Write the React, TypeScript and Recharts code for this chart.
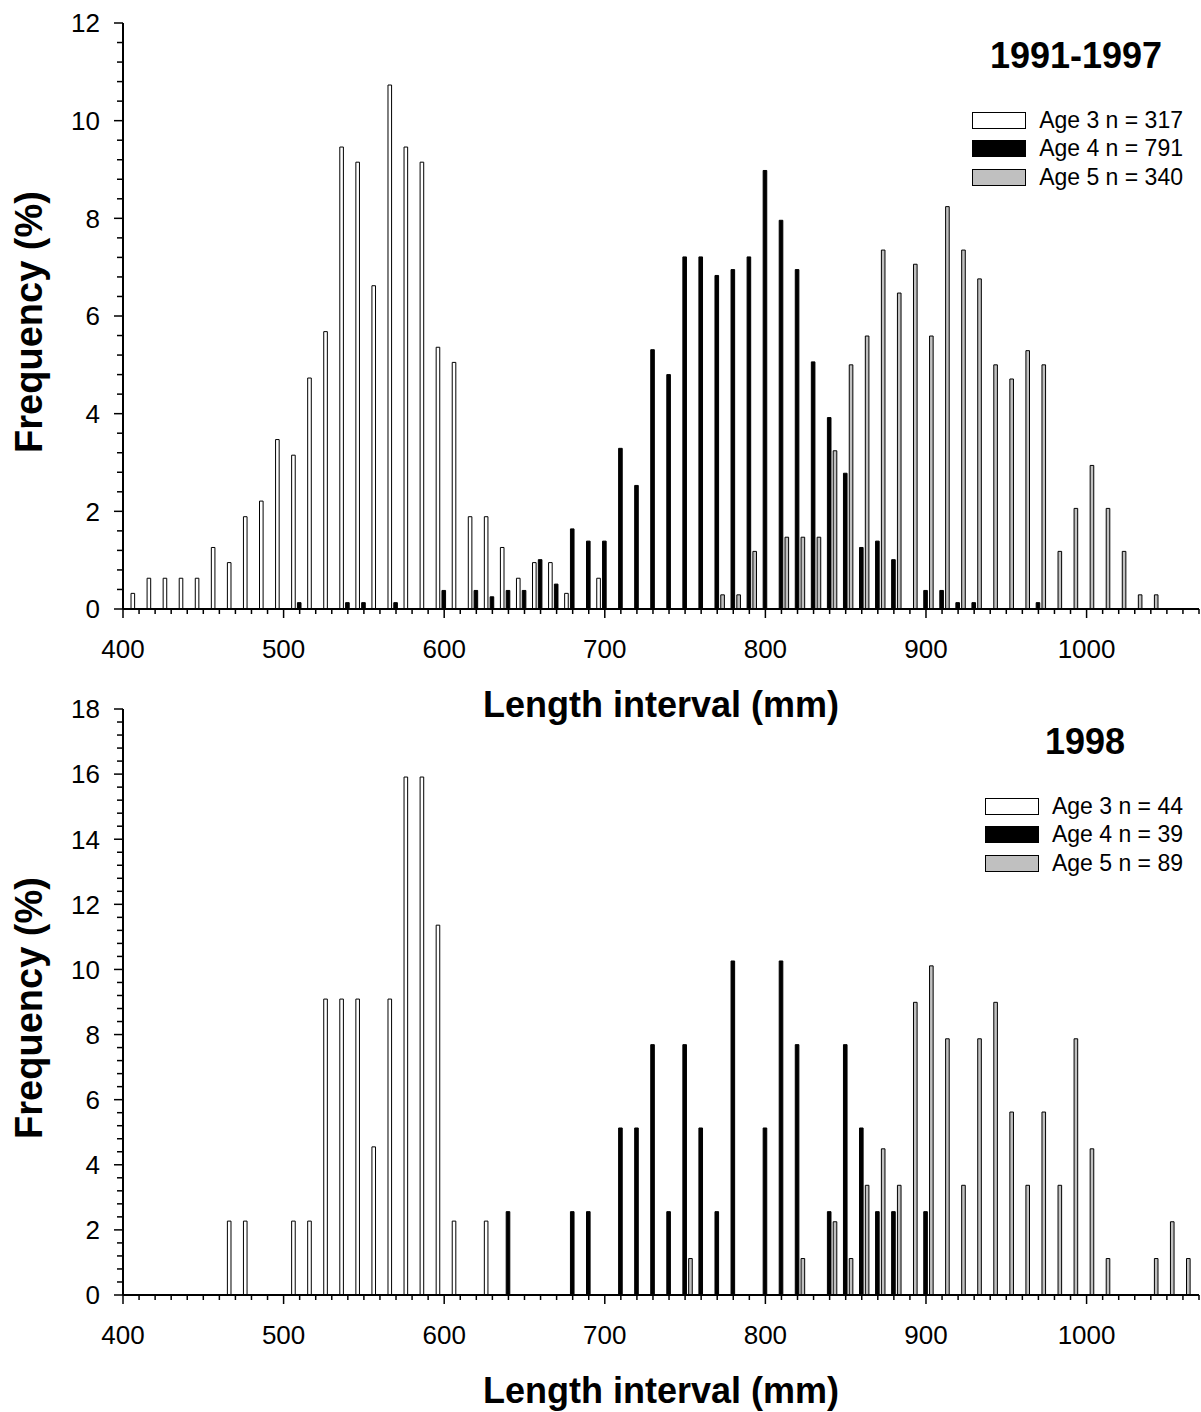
import React from "react";
import { BarChart, Bar, XAxis, YAxis, Label } from "recharts";

const FONT = "'Liberation Sans', Arial, Helvetica, sans-serif";

// length classes (mm); the three age bars of a class are grouped on it
const bins = [
  410, 420, 430, 440, 450, 460, 470, 480, 490, 500,
  510, 520, 530, 540, 550, 560, 570, 580, 590, 600,
  610, 620, 630, 640, 650, 660, 670, 680, 690, 700,
  710, 720, 730, 740, 750, 760, 770, 780, 790, 800,
  810, 820, 830, 840, 850, 860, 870, 880, 890, 900,
  910, 920, 930, 940, 950, 960, 970, 980, 990, 1000,
  1010, 1020, 1030, 1040, 1050, 1060,
];

// 1991-1997, frequency (%)
const age3Early = [
  0.32, 0.63, 0.63, 0.63, 0.63, 1.26, 0.95, 1.89, 2.21, 3.47,
  3.15, 4.73, 5.68, 9.46, 9.15, 6.62, 10.73, 9.46, 9.15, 5.36,
  5.05, 1.89, 1.89, 1.26, 0.63, 0.95, 0.95, 0.32, 0, 0.63,
  0, 0, 0, 0, 0, 0, 0, 0, 0, 0,
  0, 0, 0, 0, 0, 0, 0, 0, 0, 0,
  0, 0, 0, 0, 0, 0, 0, 0, 0, 0,
  0, 0, 0, 0, 0, 0,
];
const age4Early = [
  0, 0, 0, 0, 0, 0, 0, 0, 0, 0,
  0.13, 0, 0, 0.13, 0.13, 0, 0.13, 0, 0, 0.38,
  0, 0.38, 0.25, 0.38, 0.38, 1.01, 0.51, 1.64, 1.39, 1.39,
  3.29, 2.53, 5.31, 4.8, 7.21, 7.21, 6.83, 6.95, 7.21, 8.98,
  7.96, 6.95, 5.06, 3.92, 2.78, 1.26, 1.39, 1.01, 0, 0.38,
  0.38, 0.13, 0.13, 0, 0, 0, 0.13, 0, 0, 0,
  0, 0, 0, 0, 0, 0,
];
const age5Early = [
  0, 0, 0, 0, 0, 0, 0, 0, 0, 0,
  0, 0, 0, 0, 0, 0, 0, 0, 0, 0,
  0, 0, 0, 0, 0, 0, 0, 0, 0, 0,
  0, 0, 0, 0, 0, 0, 0.29, 0.29, 1.18, 0,
  1.47, 1.47, 1.47, 3.24, 5.0, 5.59, 7.35, 6.47, 7.06, 5.59,
  8.24, 7.35, 6.76, 5.0, 4.71, 5.29, 5.0, 1.18, 2.06, 2.94,
  2.06, 1.18, 0.29, 0.29, 0, 0,
];

// 1998, frequency (%)
const age3Late = [
  0, 0, 0, 0, 0, 0, 2.27, 2.27, 0, 0,
  2.27, 2.27, 9.09, 9.09, 9.09, 4.55, 9.09, 15.91, 15.91, 11.36,
  2.27, 0, 2.27, 0, 0, 0, 0, 0, 0, 0,
  0, 0, 0, 0, 0, 0, 0, 0, 0, 0,
  0, 0, 0, 0, 0, 0, 0, 0, 0, 0,
  0, 0, 0, 0, 0, 0, 0, 0, 0, 0,
  0, 0, 0, 0, 0, 0,
];
const age4Late = [
  0, 0, 0, 0, 0, 0, 0, 0, 0, 0,
  0, 0, 0, 0, 0, 0, 0, 0, 0, 0,
  0, 0, 0, 2.56, 0, 0, 0, 2.56, 2.56, 0,
  5.13, 5.13, 7.69, 2.56, 7.69, 5.13, 2.56, 10.26, 0, 5.13,
  10.26, 7.69, 0, 2.56, 7.69, 5.13, 2.56, 2.56, 0, 2.56,
  0, 0, 0, 0, 0, 0, 0, 0, 0, 0,
  0, 0, 0, 0, 0, 0,
];
const age5Late = [
  0, 0, 0, 0, 0, 0, 0, 0, 0, 0,
  0, 0, 0, 0, 0, 0, 0, 0, 0, 0,
  0, 0, 0, 0, 0, 0, 0, 0, 0, 0,
  0, 0, 0, 0, 1.12, 0, 0, 0, 0, 0,
  0, 1.12, 0, 2.25, 1.12, 3.37, 4.49, 3.37, 8.99, 10.11,
  7.87, 3.37, 7.87, 8.99, 5.62, 3.37, 5.62, 3.37, 7.87, 4.49,
  1.12, 0, 0, 1.12, 2.25, 1.12,
];

const xMajorTicks = [400, 500, 600, 700, 800, 900, 1000];
const yMajorTop = [0, 2, 4, 6, 8, 10, 12];
const yMajorBottom = [0, 2, 4, 6, 8, 10, 12, 14, 16, 18];

const legendTop = ["Age 3 n = 317", "Age 4 n = 791", "Age 5 n = 340"];
const legendBottom = ["Age 3 n = 44", "Age 4 n = 39", "Age 5 n = 89"];
const legendFills = ["#ffffff", "#000000", "#c0c0c0"];

// minor ticks: every 10 mm and every 0.4 %
const xTicks = Array.from({ length: 68 }, (_, i) => 400 + 10 * i);
const yTicksFor = (max: number) =>
  Array.from({ length: Math.round(max / 0.4) + 1 }, (_, i) => Math.round(i * 4) / 10);

const PLOT_TOP = 23;
const PLOT_H = 586;

const renderXTick = (props: any) => {
  const { x, y, payload } = props;
  const major = xMajorTicks.includes(payload.value);
  return (
    <g>
      <line x1={x} x2={x} y1={y} y2={y + (major ? 9 : 5)} stroke="#000" strokeWidth={1.5} />
      {major && (
        <text x={x} y={y + 49} textAnchor="middle" fontSize={26} fontFamily={FONT} fill="#000">
          {payload.value}
        </text>
      )}
    </g>
  );
};

const makeYTick = (majors: number[]) => (props: any) => {
  const { x, y, payload } = props;
  const major = majors.some((m) => Math.abs(m - payload.value) < 1e-6);
  return (
    <g>
      <line x1={x} x2={x - (major ? 9 : 6)} y1={y} y2={y} stroke="#000" strokeWidth={1.5} />
      {major && (
        <text x={x - 23} y={y} dy="0.36em" textAnchor="end" fontSize={26} fontFamily={FONT} fill="#000">
          {payload.value}
        </text>
      )}
    </g>
  );
};

interface PanelProps {
  top: number;
  height: number;
  age3: number[];
  age4: number[];
  age5: number[];
  yMax: number;
  yMajor: number[];
  title: string;
  titleX: number;
  legend: string[];
}

const Panel: React.FC<PanelProps> = ({ top, height, age3, age4, age5, yMax, yMajor, title, titleX, legend }) => {
  const rows = bins.map((bin, i) => ({ bin, age3: age3[i], age4: age4[i], age5: age5[i] }));
  const axisH = height - PLOT_TOP - PLOT_H;

  return (
    <div style={{ position: "absolute", left: 0, top, width: 1201, height }}>
      <BarChart
        width={1201}
        height={height}
        data={rows}
        margin={{ top: PLOT_TOP, right: 2, bottom: 0, left: 0 }}
        barSize={3.6}
        barGap={2.2}
      >
        <XAxis
          dataKey="bin"
          type="number"
          domain={[400, 1070]}
          ticks={xTicks}
          interval={0}
          allowDataOverflow
          height={axisH}
          tick={renderXTick}
          tickLine={false}
          tickSize={0}
          tickMargin={0}
          axisLine={{ stroke: "#000", strokeWidth: 2 }}
        >
          <Label
            value="Length interval (mm)"
            position="insideBottom"
            offset={axisH - 108}
            style={{ fontSize: 36, fontWeight: 700, fill: "#000", fontFamily: FONT }}
          />
        </XAxis>
        <YAxis
          type="number"
          domain={[0, yMax]}
          ticks={yTicksFor(yMax)}
          interval={0}
          allowDataOverflow
          width={123}
          tick={makeYTick(yMajor)}
          tickLine={false}
          tickSize={0}
          tickMargin={0}
          axisLine={{ stroke: "#000", strokeWidth: 2 }}
        >
          <Label
            value="Frequency (%)"
            angle={-90}
            position="insideLeft"
            offset={29}
            dy={6}
            style={{ textAnchor: "middle", fontSize: 38, fontWeight: 700, fill: "#000", fontFamily: FONT }}
          />
        </YAxis>
        <Bar dataKey="age3" fill="#ffffff" stroke="#000" strokeWidth={1} isAnimationActive={false} />
        <Bar dataKey="age4" fill="#000000" stroke="#000" strokeWidth={1} isAnimationActive={false} />
        <Bar dataKey="age5" fill="#c0c0c0" stroke="#000" strokeWidth={1} isAnimationActive={false} />
      </BarChart>

      <div
        style={{
          position: "absolute",
          left: titleX,
          top: 56,
          transform: "translate(-50%, -50%)",
          fontFamily: FONT,
          fontWeight: 700,
          fontSize: 36,
          lineHeight: 1,
          whiteSpace: "nowrap",
        }}
      >
        {title}
      </div>

      <div style={{ position: "absolute", right: 18, top: 106, fontFamily: FONT }}>
        {legend.map((text, i) => (
          <div
            key={text}
            style={{ display: "flex", alignItems: "center", justifyContent: "flex-end", height: 28.5 }}
          >
            <div
              style={{
                width: 52,
                height: 15,
                background: legendFills[i],
                border: "1px solid #000",
                marginRight: 13,
              }}
            />
            <span style={{ fontSize: 23, lineHeight: 1, whiteSpace: "nowrap" }}>{text}</span>
          </div>
        ))}
      </div>
    </div>
  );
};

const App: React.FC = () => (
  <div
    style={{
      position: "absolute",
      left: 0,
      top: 0,
      width: 1201,
      height: 1412,
      overflow: "hidden",
      background: "#fff",
    }}
  >
    <Panel
      top={0}
      height={730}
      age3={age3Early}
      age4={age4Early}
      age5={age5Early}
      yMax={12}
      yMajor={yMajorTop}
      title="1991-1997"
      titleX={1076}
      legend={legendTop}
    />
    <Panel
      top={686}
      height={726}
      age3={age3Late}
      age4={age4Late}
      age5={age5Late}
      yMax={18}
      yMajor={yMajorBottom}
      title="1998"
      titleX={1085}
      legend={legendBottom}
    />
  </div>
);

export default App;
